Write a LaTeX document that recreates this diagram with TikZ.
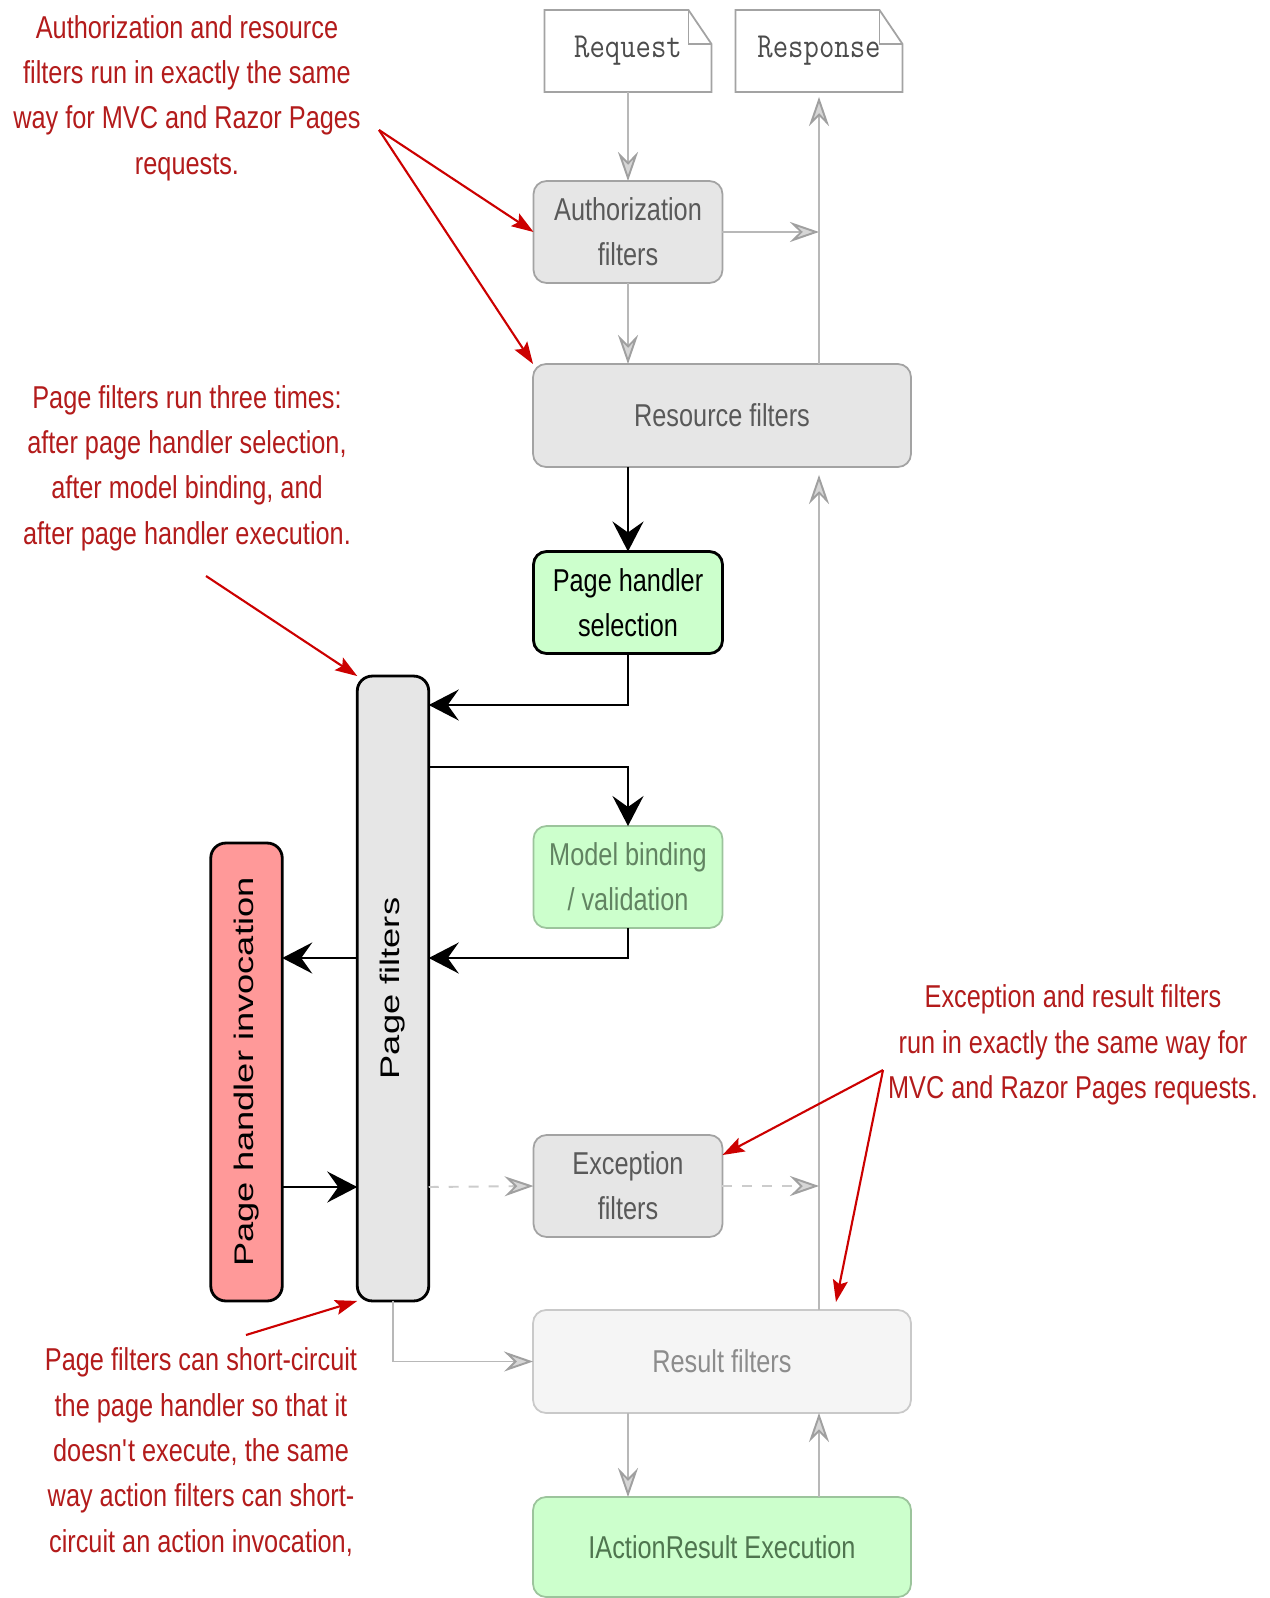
\documentclass[tikz,border=0pt]{standalone}
\usepackage{fontspec}
\setmainfont{Liberation Sans}[FakeStretch=0.8]
\setmonofont{Latin Modern Mono}[FakeStretch=0.85]
\newfontfamily\tallsans{Liberation Sans}[FakeStretch=1.35]
\usetikzlibrary{arrows.meta}
\definecolor{boxgray}{HTML}{E6E6E6}
\definecolor{boxedge}{HTML}{A3A3A3}
\definecolor{graytext}{HTML}{595959}
\definecolor{palegray}{HTML}{F5F5F5}
\definecolor{paleedge}{HTML}{C9C9C9}
\definecolor{paletext}{HTML}{8C8C8C}
\definecolor{linegray}{HTML}{B8B8B8}
\definecolor{tipgray}{HTML}{D6D6D6}
\definecolor{tipedge}{HTML}{A0A0A0}
\definecolor{dashgray}{HTML}{CCCCCC}
\definecolor{greenfill}{HTML}{CCFFCC}
\definecolor{greenedge}{HTML}{9CC49C}
\definecolor{greentext}{HTML}{4F754F}
\definecolor{redfill}{HTML}{FF9999}
\definecolor{notered}{HTML}{B31B1B}
\definecolor{arrowred}{HTML}{CC0000}

\newcommand{\notefont}{\fontsize{18}{25.8}\selectfont}
\newcommand{\sidefont}{\tallsans\fontsize{15.3}{18}\selectfont}
% note shape with folded corner
\newcommand{\dogear}[1]{%
  \draw[docline] (#1.south west) -- (#1.north west) -- ([xshift=-0.46cm]#1.north east)
    -- ([yshift=-0.68cm]#1.north east) -- (#1.south east) -- cycle;
  \draw[docline] ([xshift=-0.46cm]#1.north east) |- ([yshift=-0.68cm]#1.north east);
}

\tikzset{
  box/.style={rounded corners=0.26cm, align=center, inner sep=0pt, outer sep=0pt, font=\notefont, line width=1pt},
  small/.style={box, minimum width=3.78cm, minimum height=2.04cm},
  wide/.style={box, minimum width=7.56cm, minimum height=2.06cm},
  grayfilter/.style={draw=boxedge, fill=boxgray, text=graytext},
  palefilter/.style={draw=paleedge, fill=palegray, text=paletext},
  greenstep/.style={draw=greenedge, fill=greenfill, text=greentext},
  tallbox/.style={rounded corners=0.3cm, inner sep=0pt, outer sep=0pt, draw=black, line width=1.6pt, minimum width=1.43cm},
  sidelabel/.style={rotate=90, font=\sidefont},
  doc/.style={fill=white, inner sep=0pt, outer sep=0pt, minimum width=3.34cm, minimum height=1.64cm, font=\ttfamily\fontsize{20}{24}\selectfont, text=black!70},
  docline/.style={draw=boxedge, line width=1pt},
  note/.style={text=notered, align=center, font=\notefont},
  grayflow/.style={draw=linegray, line width=0.8pt, -{Stealth[length=0.58cm, width=0.4cm, inset=0.2cm, line width=1.1pt, color=tipedge, fill=tipgray]}},
  dashflow/.style={grayflow, draw=dashgray, line width=1.1pt, dash pattern=on 0.2cm off 0.2cm},
  flow/.style={draw=black, line width=1.2pt, -{Stealth[length=0.6cm, width=0.62cm, inset=0.22cm]}},
  notearrow/.style={draw=arrowred, line width=1.2pt, -{Stealth[length=0.44cm, width=0.3cm, inset=0.08cm]}}
}

\begin{document}
\begin{tikzpicture}[x=0.02cm, y=-0.02cm]
\fill[white] (0,0) rectangle (1270,1598);
\useasboundingbox (0,0) rectangle (1270,1598);

% request / response
\node[doc] (req) at (628,51) {Request\hspace{0.3cm}};
\node[doc] (resp) at (819,51) {Response\hspace{0.15cm}};
\dogear{req}
\dogear{resp}

% filter pipeline
\node[small, grayfilter] (auth) at (628,232) {Authorization\\filters};
\node[wide, grayfilter] (res) at (722,415.5) {Resource filters};
\node[small, draw=black, line width=1.6pt, fill=greenfill] (sel) at (628,602.5) {Page handler\\selection};
\node[small, greenstep, text=greentext!90] (mb) at (628,877) {Model binding\\/ validation};
\node[small, grayfilter] (exc) at (628,1186) {Exception\\filters};
\node[wide, palefilter] (result) at (722,1361.5) {Result filters};
\node[box, greenstep, minimum width=7.56cm, minimum height=2cm] (exec) at (722,1547) {IActionResult Execution};

% page filters and handler
\node[tallbox, fill=boxgray, minimum height=12.5cm] (pf) at (393,988.5) {};
\node[sidelabel] (pftext) at (pf.center) {Page filters};
\node[tallbox, fill=redfill, minimum height=9.16cm] (inv) at (246.5,1072) {};
\node[sidelabel] (invtext) at (inv.center) {Page handler invocation};

\coordinate (r1) at (0,705);
\coordinate (r2) at (0,767);
\coordinate (r3) at (0,958);
\coordinate (r4) at (0,1187);

% gray connectors
\draw[grayflow] (req.south) -- (auth.north);
\draw[grayflow] (auth.south) -- (auth.south |- res.north);
\draw[grayflow] (auth.east) -- (auth.east -| resp.south);
\draw[grayflow] (res.north -| resp.south) -- ([yshift=-0.1cm]resp.south);
\draw[grayflow] (result.north -| resp.south) -- ([yshift=-0.16cm]res.south -| resp.south);
\draw[grayflow] (exec.north -| resp.south) -- (result.south -| resp.south);
\draw[grayflow] (result.south -| sel.south) -- (exec.north -| sel.south);
\draw[grayflow] (pf.south) |- (result.west);
\draw[dashflow] (pf.east |- r4) -- (exc.west);
\draw[dashflow] (exc.east) -- (exc.east -| resp.south);

% black connectors
\draw[flow] (res.south -| sel.north) -- (sel.north);
\draw[flow] (sel.south) |- (pf.east |- r1);
\draw[flow] (pf.east |- r2) -| (mb.north);
\draw[flow] (mb.south) |- (pf.east |- r3);
\draw[flow] (pf.west |- r3) -- (inv.east |- r3);
\draw[flow] (inv.east |- r4) -- (pf.west |- r4);

% notes
\node[note] (note1) at (187,98) {Authorization and resource\\filters run in exactly the same\\way for MVC and Razor Pages\\requests.};
\node[note] (note2) at (187,468) {Page filters run three times:\\after page handler selection,\\after model binding, and\\after page handler execution.};
\node[note] (note3) at (1073,1045) {Exception and result filters\\run in exactly the same way for\\MVC and Razor Pages requests.};
\node[note] (note4) at (201,1452) {Page filters can short-circuit\\the page handler so that it\\doesn\textquotesingle t execute, the same\\way action filters can short-\\circuit an action invocation,};

\coordinate (n1) at (379,130);
\coordinate (n2) at (206,576);
\coordinate (n3) at (883,1070);
\coordinate (n4) at (246,1335);
\draw[notearrow] (n1) -- (auth.west);
\draw[notearrow] (n1) -- (res.north west);
\draw[notearrow] (n2) -- (pf.north west);
\draw[notearrow] (n3) -- ([yshift=-0.4cm]exc.north east);
\draw[notearrow] (n3) -- ([xshift=2.28cm, yshift=0.16cm]result.north);
\draw[notearrow] (n4) -- (pf.south west);

\end{tikzpicture}
\end{document}
